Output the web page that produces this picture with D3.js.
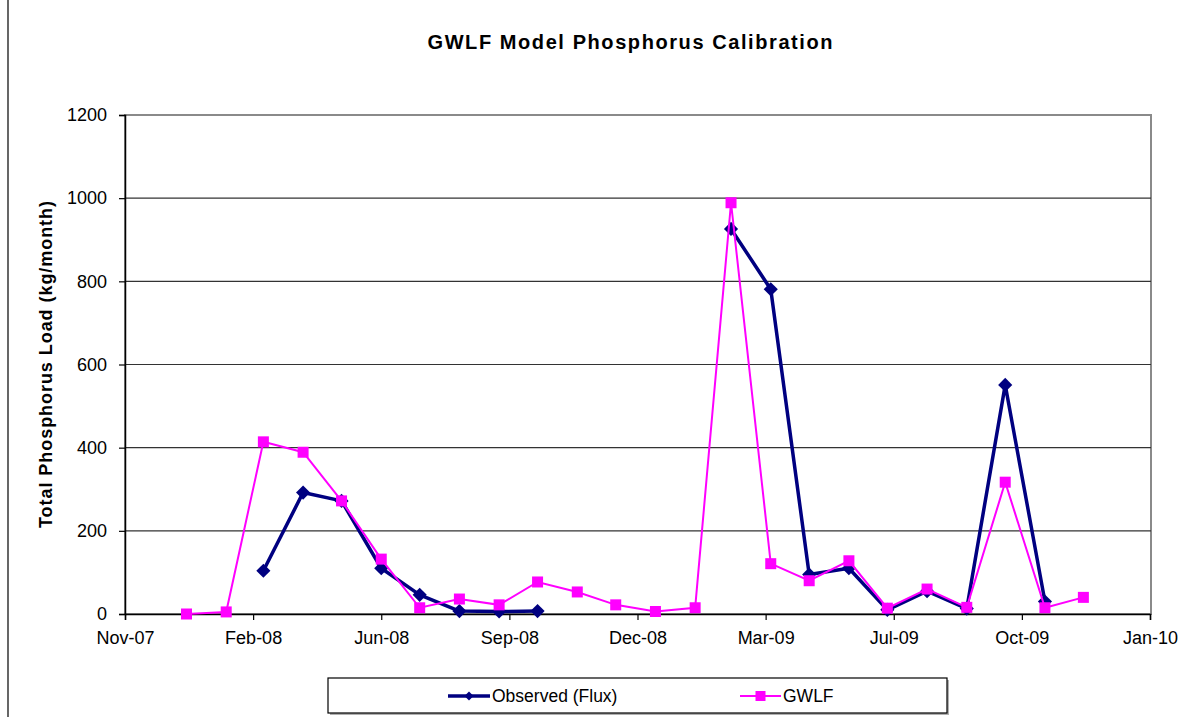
<!DOCTYPE html>
<html>
<head>
<meta charset="utf-8">
<script src="https://cdn.jsdelivr.net/npm/d3@7"></script>
<style>
  body { margin: 0; background: #fff; }
  text { font-family: "Liberation Sans", Arial, sans-serif; }
</style>
</head>
<body>
<div id="chart"></div>
<script>
// Data
const months = [
  "2008-01-01", "2008-02-01", "2008-03-01", "2008-04-01", "2008-05-01", "2008-06-01",
  "2008-07-01", "2008-08-01", "2008-09-01", "2008-10-01", "2008-11-01", "2008-12-01",
  "2009-01-01", "2009-02-01", "2009-03-01", "2009-04-01", "2009-05-01", "2009-06-01",
  "2009-07-01", "2009-08-01", "2009-09-01", "2009-10-01", "2009-11-01", "2009-12-01"
];
const observed = [
  null, null, 104, 292, 272, 110, 46, 7, 6, 7, null, null,
  null, null, 926, 781, 95, 110, 10, 55, 13, 551, 30, null
];
const gwlf = [
  0, 5, 414, 389, 272, 132, 15, 36, 22, 77, 53, 22,
  6, 15, 989, 121, 80, 128, 14, 60, 16, 317, 15, 40
];
const yTicks = [0, 200, 400, 600, 800, 1000, 1200];
const xDomain = ["2007-11-14", "2010-01-22"];
const xTickStepDays = 100;

function draw() {
  const parseDate = d3.utcParse("%Y-%m-%d");
  const dates = months.map(parseDate);

  const dimensions = {
    width: 1199,
    height: 721,
    left: 125,
    right: 1151,
    top: 115,
    bottom: 614,
  };

  const svg = d3
    .select("#chart")
    .append("svg")
    .attr("width", dimensions.width)
    .attr("height", dimensions.height);

  // left edge line of the chart frame
  svg.append("line")
    .attr("x1", 8).attr("x2", 8)
    .attr("y1", 0).attr("y2", 717)
    .attr("stroke", "#000").attr("stroke-width", 1.2);

  // Scales
  const xScale = d3
    .scaleUtc()
    .domain(xDomain.map(parseDate))
    .range([dimensions.left, dimensions.right - 1]);

  const yScale = d3
    .scaleLinear()
    .domain([0, 1200])
    .range([dimensions.bottom, dimensions.top]);

  // plot area border (gray)
  svg.append("rect")
    .attr("x", dimensions.left)
    .attr("y", dimensions.top)
    .attr("width", dimensions.right - dimensions.left)
    .attr("height", dimensions.bottom - dimensions.top)
    .attr("fill", "none")
    .attr("stroke", "#8a8a8a")
    .attr("stroke-width", 2);

  // gridlines
  svg.append("g")
    .selectAll("line")
    .data(yTicks.filter((d) => d > 0 && d < 1200))
    .join("line")
    .attr("x1", dimensions.left)
    .attr("x2", dimensions.right)
    .attr("y1", (d) => yScale(d))
    .attr("y2", (d) => yScale(d))
    .attr("stroke", "#333")
    .attr("stroke-width", 1.2);

  // Axes
  const start = xScale.domain()[0];
  const xTickValues = d3.range(9).map((i) => d3.utcDay.offset(start, i * xTickStepDays));
  const xAxis = d3
    .axisBottom(xScale)
    .tickValues(xTickValues)
    .tickFormat(d3.utcFormat("%b-%y"))
    .tickSizeOuter(0)
    .tickSize(6);

  const xAxisGroup = svg
    .append("g")
    .attr("transform", `translate(0, ${dimensions.bottom})`)
    .call(xAxis);
  xAxisGroup.select(".domain").attr("stroke", "#000").attr("stroke-width", 1.5);
  xAxisGroup.selectAll(".tick line").attr("stroke", "#000").attr("stroke-width", 1.2);
  xAxisGroup.selectAll(".tick text")
    .attr("font-size", 18)
    .attr("font-family", "Liberation Sans, Arial, sans-serif")
    .attr("fill", "#000")
    .attr("dy", "1.15em");

  const yAxis = d3.axisLeft(yScale)
    .tickValues(yTicks)
    .tickFormat(d3.format("d"))
    .tickSizeOuter(0)
    .tickSize(6);
  const yAxisGroup = svg
    .append("g")
    .attr("transform", `translate(${dimensions.left}, 0)`)
    .call(yAxis);
  yAxisGroup.select(".domain").attr("stroke", "#000").attr("stroke-width", 1.5);
  yAxisGroup.selectAll(".tick line").attr("stroke", "#000").attr("stroke-width", 1.2);
  yAxisGroup.selectAll(".tick text")
    .attr("font-size", 18)
    .attr("font-family", "Liberation Sans, Arial, sans-serif")
    .attr("fill", "#000")
    .attr("x", -18);

  // Title
  svg.append("text")
    .attr("x", 630)
    .attr("y", 49)
    .attr("text-anchor", "middle")
    .attr("font-size", 20)
    .attr("font-weight", "bold")
    .attr("textLength", 405)
    .text("GWLF Model Phosphorus Calibration");

  // Y label
  svg.append("text")
    .attr("transform", `translate(52, ${(dimensions.top + dimensions.bottom) / 2}) rotate(-90)`)
    .attr("text-anchor", "middle")
    .attr("font-size", 18)
    .attr("font-weight", "bold")
    .attr("textLength", 327)
    .text("Total Phosphorus Load (kg/month)");

  // Lines
  const rows = dates.map((d, i) => ({ date: d, obs: observed[i], model: gwlf[i] }));

  const obsLine = d3.line()
    .defined((d) => d.obs !== null)
    .x((d) => xScale(d.date))
    .y((d) => yScale(d.obs));

  const modelLine = d3.line()
    .x((d) => xScale(d.date))
    .y((d) => yScale(d.model));

  svg.append("path")
    .datum(rows)
    .attr("d", obsLine)
    .attr("fill", "none")
    .attr("stroke", "#000080")
    .attr("stroke-width", 3.5)
    .attr("stroke-linejoin", "round");

  const diamond = d3.symbol().type(d3.symbolSquare).size(100);
  svg.append("g")
    .selectAll("path")
    .data(rows.filter((d) => d.obs !== null))
    .join("path")
    .attr("d", diamond)
    .attr("transform", (d) => `translate(${xScale(d.date)}, ${yScale(d.obs)}) rotate(45)`)
    .attr("fill", "#000080");

  svg.append("path")
    .datum(rows)
    .attr("d", modelLine)
    .attr("fill", "none")
    .attr("stroke", "#ff00ff")
    .attr("stroke-width", 2);

  svg.append("g")
    .selectAll("rect")
    .data(rows)
    .join("rect")
    .attr("x", (d) => xScale(d.date) - 5.5)
    .attr("y", (d) => yScale(d.model) - 5.5)
    .attr("width", 11)
    .attr("height", 11)
    .attr("fill", "#ff00ff");

  // Legend
  const legend = svg.append("g");
  legend.append("rect")
    .attr("x", 330).attr("y", 680)
    .attr("width", 619).attr("height", 35)
    .attr("fill", "#b0b0b0");
  legend.append("rect")
    .attr("x", 328).attr("y", 678)
    .attr("width", 619).attr("height", 35)
    .attr("fill", "#fff")
    .attr("stroke", "#000")
    .attr("stroke-width", 1.2);

  const ly = 696;
  legend.append("line")
    .attr("x1", 448).attr("x2", 490).attr("y1", ly).attr("y2", ly)
    .attr("stroke", "#000080").attr("stroke-width", 3.5);
  legend.append("path")
    .attr("d", d3.symbol().type(d3.symbolSquare).size(40))
    .attr("transform", `translate(469, ${ly}) rotate(45)`)
    .attr("fill", "#000080");
  legend.append("text")
    .attr("x", 492).attr("y", ly + 6)
    .attr("font-size", 17.5)
    .text("Observed (Flux)");

  legend.append("line")
    .attr("x1", 740).attr("x2", 781).attr("y1", ly).attr("y2", ly)
    .attr("stroke", "#ff00ff").attr("stroke-width", 2);
  legend.append("rect")
    .attr("x", 755.5).attr("y", ly - 5).attr("width", 10).attr("height", 10)
    .attr("fill", "#ff00ff");
  legend.append("text")
    .attr("x", 783).attr("y", ly + 6)
    .attr("font-size", 17.5)
    .text("GWLF");
}

draw();
</script>
</body>
</html>
